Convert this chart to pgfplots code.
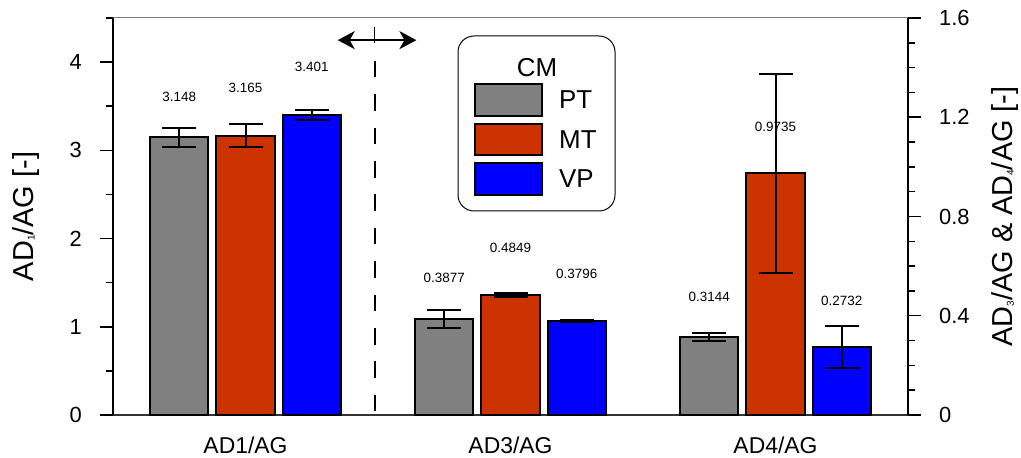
\documentclass[border=0pt]{standalone}
\usepackage{fontspec}
\setmainfont{Liberation Sans}
\usepackage{pgfplots}
\pgfplotsset{compat=1.18}
\usetikzlibrary{arrows.meta}

\definecolor{ptgray}{HTML}{808080}
\definecolor{mtred}{HTML}{CC3300}
\definecolor{vpblue}{HTML}{0000FF}

\newcommand{\sub}[1]{\raisebox{-1.5bp}{\fontsize{10}{10}\selectfont #1}}

\tikzset{
  vallabel/.style={font=\fontsize{13.5}{16}\selectfont, inner sep=0pt, anchor=center},
  legtext/.style={font=\fontsize{26}{30}\selectfont, inner sep=0pt},
}

\pgfplotsset{
  barchart/.style={
    width=795bp, height=397bp, scale only axis,
    at={(113bp,43bp)}, anchor=south west,
    xmin=-0.5, xmax=2.5,
    tick align=outside,
    major tick length=13bp, minor tick length=7bp,
    tick style={black, line width=1.5bp},
    /pgf/number format/assume math mode=true,
    tick label style={font=\fontsize{22}{26}\selectfont},
    clip=false,
  },
  databar/.style={
    ybar, bar width=0.219, bar shift=0pt, draw=black, line width=2bp,
    error bars/y dir=both, error bars/y explicit,
    error bars/error bar style={black, line width=2bp},
    error bars/error mark options={rotate=90, black, line width=2bp, mark size=17bp},
  },
}

\begin{document}
\begin{tikzpicture}
\path[use as bounding box] (0,0) rectangle (1021bp,458bp);

% left scale: AD1/AG
\begin{axis}[barchart,
  ymin=0, ymax=4.5,
  axis y line*=left, axis x line*=bottom,
  y axis line style={-, black, line width=2bp},
  x axis line style={-, black!80, line width=1.5bp},
  ytick={0,1,2,3,4},
  minor ytick={0.5,1.5,2.5,3.5,4.5},
  yticklabel style={inner sep=0pt, xshift=-18bp},
  xtick={0,1,2},
  xticklabels={AD1/AG, AD3/AG, AD4/AG},
  major x tick style={draw=none},
  xticklabel style={font=\fontsize{23}{27}\selectfont, inner sep=0pt, anchor=north, yshift=-9bp},
  every axis y label/.style={at={(axis description cs:-0.110,0.5)}, rotate=90, anchor=center,
    font=\fontsize{29}{34}\selectfont},
  ylabel={AD\sub{1}/AG [-]},
]
\addplot[databar, fill=ptgray] coordinates {(-0.25,3.148) +- (0,0.109)};
\addplot[databar, fill=mtred]  coordinates {(0,3.165) +- (0,0.128)};
\addplot[databar, fill=vpblue] coordinates {(0.25,3.401) +- (0,0.060)};

\node[vallabel] at (axis cs:-0.25,3.603) {3.148};
\node[vallabel] at (axis cs:0,3.705) {3.165};
\node[vallabel] at (axis cs:0.25,3.943) {3.401};

% separator between the two scales
\draw[black, line width=1.8bp, dash pattern=on 16.7bp off 16.7bp]
  (axis cs:0.4875,4.015) -- (axis cs:0.4875,0);
\draw[black, line width=1.8bp, {Stealth[length=17bp,width=18bp,inset=5bp]}-{Stealth[length=17bp,width=18bp,inset=5bp]}]
  (axis cs:0.348,4.249) -- (axis cs:0.645,4.249);
\draw[black, line width=1.5bp] (axis cs:0.4875,4.400) -- (axis cs:0.4875,4.212);
\end{axis}

% right scale: AD3/AG and AD4/AG
\begin{axis}[barchart,
  ymin=0, ymax=1.6,
  axis y line*=right, axis x line*=top,
  y axis line style={-, black, line width=2bp},
  x axis line style={-, black!50, line width=1bp},
  xtick=\empty,
  ytick={0,0.4,0.8,1.2,1.6},
  minor ytick={0.1,0.2,0.3,0.5,0.6,0.7,0.9,1.0,1.1,1.3,1.4,1.5},
  yticklabel style={inner sep=0pt, xshift=18bp},
  every axis y label/.style={at={(axis description cs:1.122,0.5)}, rotate=90, anchor=center,
    font=\fontsize{29}{34}\selectfont},
  ylabel={AD\sub{3}/AG \& AD\sub{4}/AG [-]},
]
\addplot[databar, fill=ptgray] coordinates {(0.75,0.3877) +- (0,0.037) (1.75,0.3144) +- (0,0.0155)};
\addplot[databar, fill=mtred]  coordinates {(1,0.4849) +- (0,0.008) (2,0.9735) +- (0,0.400)};
\addplot[databar, fill=vpblue] coordinates {(1.25,0.3796) +- (0,0.003) (2.25,0.2732) +- (0,0.084)};

\node[vallabel] at (axis cs:0.75,0.552) {0.3877};
\node[vallabel] at (axis cs:1,0.673) {0.4849};
\node[vallabel] at (axis cs:1.25,0.568) {0.3796};
\node[vallabel] at (axis cs:1.75,0.4756) {0.3144};
\node[vallabel] at (axis cs:2,1.161) {0.9735};
\node[vallabel] at (axis cs:2.25,0.4595) {0.2732};
\end{axis}

% legend
\draw[black, line width=1bp, rounded corners=16bp] (458bp,247bp) rectangle (615bp,422bp);
\node[legtext] at (537bp,390bp) {CM};
\draw[fill=ptgray, line width=2bp] (475bp,342bp) rectangle (542bp,374bp);
\draw[fill=mtred, line width=2bp]  (475bp,303bp) rectangle (542bp,334bp);
\draw[fill=vpblue, line width=2bp] (475bp,263bp) rectangle (542bp,295bp);
\node[legtext, anchor=west] at (559bp,358bp) {PT};
\node[legtext, anchor=west] at (559bp,318.5bp) {MT};
\node[legtext, anchor=west] at (559bp,279bp) {VP};
\end{tikzpicture}
\end{document}
